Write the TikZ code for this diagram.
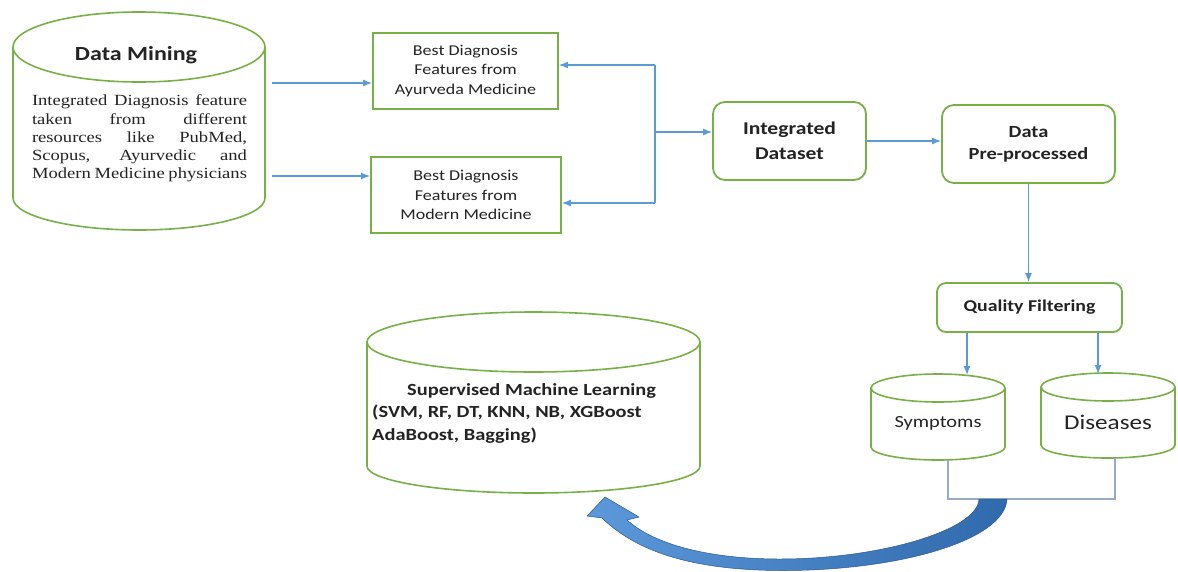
\documentclass[tikz,border=0pt]{standalone}
\usepackage{fontspec}
\setmainfont[FakeStretch=1.2]{Carlito}
\newfontfamily\bodyserif[FakeStretch=1.2]{Liberation Serif}
\usetikzlibrary{arrows.meta}
\definecolor{grn}{RGB}{120,175,70}
\definecolor{ablue}{RGB}{91,155,213}
\definecolor{lgray}{RGB}{150,172,198}
\definecolor{darrow}{RGB}{48,106,172}
\definecolor{larrow}{RGB}{92,152,218}
\definecolor{txt}{RGB}{35,35,35}
\newcommand{\cylshape}[6]{%
  \draw[cyl] (#1,#2) ellipse [x radius=#3pt, y radius=#4pt];
  \draw[cyl] (#1-#3,#2) -- (#1-#3,#5) arc[start angle=180,end angle=360,x radius=#3pt,y radius=#6pt] -- (#1+#3,#2);
}
\begin{document}
\begin{tikzpicture}[x=1pt,y=-1pt,
  sqbox/.style={draw=grn,line width=1.8pt,inner sep=0pt,align=center,text=txt},
  rbox/.style={sqbox,rounded corners=12pt},
  cyl/.style={draw=grn,line width=1.6pt},
  conn/.style={draw=ablue,line width=1.2pt,-{Latex[length=9pt,width=7pt]}},
  plainline/.style={draw=ablue,line width=1.2pt},
  grayline/.style={draw=lgray,line width=1.2pt},
  lbl/.style={inner sep=0pt,text=txt}
]
\useasboundingbox (0,0) rectangle (1178,571);

% ---- cylinders ----
\cylshape{139}{47}{126}{35}{198}{32}
\cylshape{533.5}{342}{166.5}{30}{466}{27}
\cylshape{938}{388}{67}{14}{447}{13}
\cylshape{1108}{387}{67}{14}{445}{13}

\node[lbl,font=\bfseries\fontsize{20}{24}\selectfont] (dmtitle) at (136,55) {Data Mining};
\node[lbl,align=left,font=\bodyserif\fontsize{15.5}{18.25}\selectfont] (dmtext) at (139.5,138.5)
  {\makebox[215pt][s]{Integrated Diagnosis feature}\\
   \makebox[215pt][s]{taken from different}\\
   \makebox[215pt][s]{resources like PubMed,}\\
   \makebox[215pt][s]{Scopus, Ayurvedic and}\\
   \makebox[215pt][s]{Modern Medicine physicians}};

\node[lbl,anchor=west,align=left,font=\bfseries\fontsize{17}{22.5}\selectfont] (sml) at (372,413)
  {\hspace*{35pt}Supervised Machine Learning\\(SVM, RF, DT, KNN, NB, XGBoost\\AdaBoost, Bagging)};

\node[lbl,font=\fontsize{17}{20}\selectfont] (sym) at (938,423) {Symptoms};
\node[lbl,font=\fontsize{21}{24}\selectfont] (dis) at (1108,422) {Diseases};

% ---- boxes ----
\node[sqbox,minimum width=185pt,minimum height=76pt,font=\fontsize{15}{19.5}\selectfont] (ayur) at (465.5,71)
  {Best Diagnosis\\Features from\\Ayurveda Medicine};
\node[sqbox,minimum width=190pt,minimum height=76pt,font=\fontsize{15}{19.5}\selectfont] (modern) at (466,195)
  {Best Diagnosis\\Features from\\Modern Medicine};
\node[rbox,minimum width=153pt,minimum height=78pt,font=\bfseries\fontsize{18}{25}\selectfont] (intd) at (789.5,141)
  {Integrated\\Dataset};
\node[rbox,minimum width=173pt,minimum height=78pt,font=\bfseries\fontsize{17}{22}\selectfont] (dp) at (1028.5,144)
  {Data\\Pre-processed};
\node[rbox,rounded corners=9pt,minimum width=185pt,minimum height=49pt,font=\bfseries\fontsize{16.5}{20}\selectfont] (qf) at (1029.5,307.5)
  {Quality Filtering};

% ---- connector points ----
\coordinate (dmA) at (272,83);
\coordinate (dmB) at (272,176);
\coordinate (brT) at (655,65);
\coordinate (brM) at (655,132);
\coordinate (brB) at (655,203);
\coordinate (symtop) at (967,375);
\coordinate (distop) at (1098,374);
\coordinate (symbot) at (948,460);
\coordinate (disbot) at (1115,458);
\coordinate (junc) at (948,499);

\draw[conn] (dmA) -- (dmA -| ayur.west);
\draw[conn] (dmB) -- (dmB -| modern.west);
\draw[plainline] (brT) -- (brB);
\draw[conn] (brT) -- (brT -| ayur.east);
\draw[conn] (brB) -- (brB -| modern.east);
\draw[conn] (brM) -- (brM -| intd.west);
\draw[conn] (intd.east) -- (intd.east -| dp.west);
\draw[conn] (dp.south) -- (dp.south |- qf.north);
\draw[conn] (symtop |- qf.south) -- (symtop);
\draw[conn] (distop |- qf.south) -- (distop);
\draw[grayline] (symbot) -- (junc) -| (disbot);

% ---- big curved arrow ----
\shade[left color=larrow,right color=darrow,draw=darrow!85!black,line width=0.5pt]
  (605,497) -- (587,516) -- (602,518)
  .. controls (640,555) and (700,570) .. (780,570.5)
  .. controls (900,571) and (1005,540) .. (1007,499)
  -- (979,499)
  .. controls (978,530) and (880,559) .. (780,559)
  .. controls (710,559) and (655,545) .. (627,520)
  -- (639,517) -- cycle;
\end{tikzpicture}
\end{document}
